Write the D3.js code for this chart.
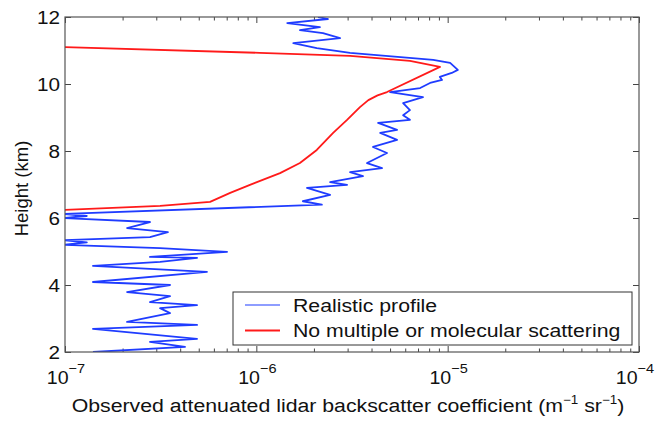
<!DOCTYPE html>
<html>
<head>
<meta charset="utf-8">
<script src="https://cdn.jsdelivr.net/npm/d3@7"></script>
<style>
  body { margin: 0; background: #fff; }
  text { font-family: "Liberation Sans", Arial, Helvetica, sans-serif; fill: #111; }
</style>
</head>
<body>
<div id="chart"></div>
<script>
// realistic profile (blue), bottom to top
const blueHeights = [2.00, 2.15, 2.30, 2.39, 2.69, 2.81, 2.90, 3.16, 3.31, 3.40, 3.49, 3.67, 3.79, 4.00,
  4.09, 4.39, 4.57, 4.69, 4.81, 4.84, 4.99, 5.10, 5.20, 5.27, 5.34, 5.43, 5.58, 5.70, 5.88, 6.00,
  6.06, 6.12, 6.40, 6.50, 6.69, 6.90, 6.99, 7.07, 7.25, 7.37, 7.49, 7.64, 7.94, 8.12, 8.33, 8.54,
  8.63, 8.84, 8.93, 9.07, 9.22, 9.43, 9.61, 9.76, 9.88, 10.03, 10.12, 10.21, 10.33, 10.42, 10.63,
  10.72, 10.93, 11.07, 11.22, 11.37, 11.52, 11.61, 11.70, 11.82, 11.94, 12.00];
const blueValues = [1.40e-7, 4.24e-7, 2.78e-7, 4.90e-7, 1.40e-7, 4.90e-7, 2.11e-7, 3.54e-7, 3.14e-7,
  4.90e-7, 2.78e-7, 3.54e-7, 2.11e-7, 3.54e-7, 1.40e-7, 5.52e-7, 1.40e-7, 3.14e-7, 4.90e-7, 2.78e-7,
  7.03e-7, 3.14e-7, 0.98e-7, 1.30e-7, 0.98e-7, 2.78e-7, 3.45e-7, 2.11e-7, 2.78e-7, 0.98e-7,
  1.30e-7, 0.98e-7, 2.20e-6, 1.75e-6, 2.43e-6, 1.84e-6, 2.98e-6, 2.43e-6, 3.61e-6, 3.09e-6, 4.54e-6,
  3.79e-6, 4.82e-6, 4.07e-6, 5.44e-6, 4.44e-6, 5.44e-6, 4.33e-6, 6.35e-6, 5.85e-6, 6.35e-6, 5.85e-6,
  7.43e-6, 5.00e-6, 7.18e-6, 8.09e-6, 9.35e-6, 9.10e-6, 1.05e-5, 1.13e-5, 1.03e-5, 8.40e-6, 3.09e-6,
  2.07e-6, 1.56e-6, 2.74e-6, 2.23e-6, 1.69e-6, 2.15e-6, 1.45e-6, 2.37e-6, 2.10e-6];

// no multiple or molecular scattering (red), bottom to top
const redHeights = [6.24, 6.36, 6.48, 6.75, 6.99, 7.34, 7.64, 8.03, 8.54, 8.93, 9.31, 9.52, 9.66,
  9.76, 10.51, 10.69, 10.84, 10.93, 11.10];
const redValues = [0.98e-7, 3.14e-7, 5.73e-7, 7.30e-7, 9.26e-7, 1.33e-6, 1.69e-6, 2.07e-6, 2.52e-6,
  2.98e-6, 3.48e-6, 3.85e-6, 4.30e-6, 4.82e-6, 9.12e-6, 6.35e-6, 3.09e-6, 1.04e-6, 0.98e-7];

const xTickExps = [-7, -6, -5, -4];
const yTicks = [2, 4, 6, 8, 10, 12];
const legendLabels = ["Realistic profile", "No multiple or molecular scattering"];
const seriesColors = ["#1f3cff", "#ff1a1a"];

const W = 656, H = 421;
const margin = { top: 17, right: 17, bottom: 69, left: 65 };
const width = W - margin.left - margin.right;
const height = H - margin.top - margin.bottom;
const fontSize = 18.5;
const stretch = 1.12; // the figure text is a bit wide

const svg = d3.select("#chart").append("svg")
  .attr("width", W)
  .attr("height", H);

const g = svg.append("g").attr("transform", `translate(${margin.left},${margin.top})`);

const x = d3.scaleLog().domain([1e-7, 1e-4]).range([0, width]);
const y = d3.scaleLinear().domain([2, 12]).range([height, 0]);

g.append("clipPath").attr("id", "clip")
  .append("rect").attr("width", width).attr("height", height);

// minor + major ticks
const minors = [];
for (let e = -7; e < -4; e++) for (let m = 2; m <= 9; m++) minors.push(m * Math.pow(10, e));
const majors = xTickExps.map(e => Math.pow(10, e));

function styleAxis(sel) {
  sel.select(".domain").remove();
  sel.selectAll("line").attr("stroke", "#444").attr("stroke-width", 1);
}

g.append("g").attr("transform", `translate(0,${height})`)
  .call(d3.axisBottom(x).tickValues(minors).tickSize(-3.5).tickFormat(""))
  .call(styleAxis);
g.append("g").attr("transform", `translate(0,${height})`)
  .call(d3.axisBottom(x).tickValues(majors).tickSize(-6).tickFormat(""))
  .call(styleAxis);
g.append("g")
  .call(d3.axisTop(x).tickValues(minors).tickSize(-3.5).tickFormat(""))
  .call(styleAxis);
g.append("g")
  .call(d3.axisTop(x).tickValues(majors).tickSize(-6).tickFormat(""))
  .call(styleAxis);
g.append("g")
  .call(d3.axisLeft(y).tickValues(yTicks).tickSize(-6).tickFormat(""))
  .call(styleAxis);
g.append("g").attr("transform", `translate(${width},0)`)
  .call(d3.axisRight(y).tickValues(yTicks).tickSize(-6).tickFormat(""))
  .call(styleAxis);

// y tick labels
yTicks.forEach(t => {
  g.append("g")
    .attr("transform", `translate(-5,${y(t) + 6.5}) scale(${stretch},1)`)
    .append("text")
    .attr("text-anchor", "end")
    .style("font-size", fontSize + "px")
    .text(t);
});

// x tick labels 10^e (last one kept inside the page)
xTickExps.forEach(e => {
  const cx = Math.min(x(Math.pow(10, e)) + 1, W - margin.left - 21);
  const t = g.append("g")
    .attr("transform", `translate(${cx},${height + 32}) scale(${stretch},1)`)
    .append("text")
    .attr("text-anchor", "middle")
    .style("font-size", "17.5px");
  t.append("tspan").text("10");
  t.append("tspan").attr("dy", -11).style("font-size", "13px").text("\u2212" + Math.abs(e));
});

// lines
const line = d3.line().x(d => x(d.v)).y(d => y(d.h));
const blue = blueHeights.map((h, i) => ({ h, v: blueValues[i] }));
const red = redHeights.map((h, i) => ({ h, v: redValues[i] }));

const lines = g.append("g").attr("clip-path", "url(#clip)");
lines.append("path").datum(blue)
  .attr("fill", "none").attr("stroke", seriesColors[0]).attr("stroke-width", 1.8)
  .attr("stroke-linejoin", "round").attr("d", line);
lines.append("path").datum(red)
  .attr("fill", "none").attr("stroke", seriesColors[1]).attr("stroke-width", 1.8)
  .attr("stroke-linejoin", "round").attr("d", line);

// axes box
g.append("rect").attr("width", width).attr("height", height)
  .attr("fill", "none").attr("stroke", "#555").attr("stroke-width", 1.2);

// legend
const lg = svg.append("g").attr("transform", "translate(233,292)");
lg.append("rect").attr("width", 399).attr("height", 53)
  .attr("fill", "#fff").attr("stroke", "#333").attr("stroke-width", 1);
legendLabels.forEach((lab, i) => {
  const ly = 13 + i * 25.5;
  lg.append("line").attr("x1", 12).attr("x2", 47).attr("y1", ly).attr("y2", ly)
    .attr("stroke", seriesColors[i]).attr("stroke-width", i === 0 ? 1.2 : 2.2);
  lg.append("g").attr("transform", `translate(60,${ly + 6.5}) scale(1.15,1)`)
    .append("text").style("font-size", fontSize + "px").text(lab);
});

// axis titles
svg.append("text")
  .attr("transform", `translate(28,${margin.top + height / 2 + 4}) rotate(-90)`)
  .attr("text-anchor", "middle")
  .style("font-size", fontSize + "px")
  .text("Height (km)");

const xt = svg.append("g")
  .attr("transform", `translate(${margin.left + width / 2 - 4},412) scale(${stretch},1)`)
  .append("text")
  .attr("text-anchor", "middle")
  .style("font-size", "19px");
xt.append("tspan").text("Observed attenuated lidar backscatter coefficient (m");
xt.append("tspan").attr("dy", -8).style("font-size", "12px").text("\u22121");
xt.append("tspan").attr("dy", 8).text(" sr");
xt.append("tspan").attr("dy", -8).style("font-size", "12px").text("\u22121");
xt.append("tspan").attr("dy", 8).text(")");
</script>
</body>
</html>
